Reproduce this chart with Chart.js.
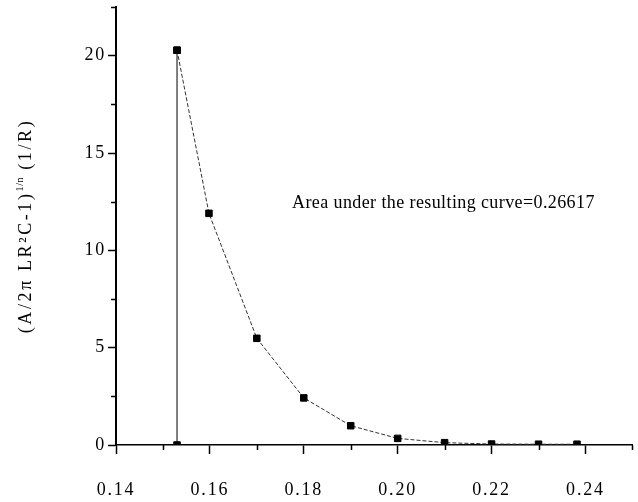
<!DOCTYPE html>
<html lang="en">
<head>
    <meta charset="UTF-8">
    <title>Area under the resulting curve</title>
    <script src="https://cdn.jsdelivr.net/npm/chart.js@4"></script>
    <style>
        html, body { margin: 0; padding: 0; background: #fff; overflow: hidden; }
        #wrap { width: 638px; height: 502px; }
        canvas { display: block; }
    </style>
</head>
<body>
    <div id="wrap"><canvas id="areaChart"></canvas></div>

    <script>
        // curve samples: x (frequency-like variable) and (A/2pi LR2C-1)^(1/n) values
        const curveX = [0.1530, 0.1598, 0.1700, 0.1800, 0.1900, 0.2000, 0.2100, 0.2200, 0.2300, 0.2382];
        const curveY = [20.28, 11.90, 5.48, 2.42, 0.99, 0.34, 0.12, 0.05, 0.04, 0.04];

        // vertical drop line at the first sample
        const dropX = [0.1530, 0.1530];
        const dropY = [0, 20.28];

        const xTickLabels = ['0.14', '0.16', '0.18', '0.20', '0.22', '0.24'];
        const yTickLabels = ['0', '5', '10', '15', '20'];

        const areaNote = 'Area under the resulting curve=0.26617';

        const FONT = "'Liberation Serif', 'Times New Roman', serif";

        const toPoints = (xs, ys) => xs.map((x, i) => ({ x: x, y: ys[i] }));

        // the serif labels are set a little loose
        const spacing = {
            id: 'spacing',
            beforeDraw(chart) { chart.ctx.letterSpacing = '1.8px'; },
            afterDraw(chart) { chart.ctx.letterSpacing = '0px'; }
        };

        // short minor ticks half way between the labelled ones
        const minorTicks = {
            id: 'minorTicks',
            afterDraw(chart) {
                const ctx = chart.ctx;
                const xs = chart.scales.x, ys = chart.scales.y;
                ctx.save();
                ctx.strokeStyle = '#000';
                ctx.lineWidth = 1.5;
                ctx.beginPath();
                for (let v = 0.15; v <= xs.max + 1e-9; v += 0.02) {
                    const px = Math.round(xs.getPixelForValue(v)) + 0.5;
                    ctx.moveTo(px, ys.bottom);
                    ctx.lineTo(px, ys.bottom + 5);
                }
                for (let v = 2.5; v <= ys.max + 1e-9; v += 5) {
                    const py = Math.round(ys.getPixelForValue(v)) + 0.5;
                    ctx.moveTo(xs.left, py);
                    ctx.lineTo(xs.left - 5, py);
                }
                ctx.stroke();
                ctx.restore();
            }
        };

        // rotated y title with superscript exponent, plus the area note
        const textLayer = {
            id: 'textLayer',
            afterDraw(chart) {
                const ctx = chart.ctx;
                const area = chart.chartArea;
                const parts = [
                    { t: '(A/2\u03C0 LR\u00B2C-1)', size: 18, rise: 0, ls: '2.6px' },
                    { t: '1/n', size: 10, rise: 8, ls: '0.6px' },
                    { t: ' (1/R)', size: 18, rise: 0, ls: '2.6px' }
                ];
                ctx.save();
                ctx.fillStyle = '#000';
                ctx.textBaseline = 'alphabetic';
                let total = 0;
                parts.forEach(p => {
                    ctx.font = p.size + 'px ' + FONT;
                    ctx.letterSpacing = p.ls;
                    p.w = ctx.measureText(p.t).width;
                    total += p.w;
                });
                ctx.translate(31, (area.top + area.bottom) / 2);
                ctx.rotate(-Math.PI / 2);
                let x = -total / 2;
                parts.forEach(p => {
                    ctx.font = p.size + 'px ' + FONT;
                    ctx.letterSpacing = p.ls;
                    ctx.fillText(p.t, x, -p.rise);
                    x += p.w;
                });
                ctx.restore();

                // note placed in data coordinates
                const xs = chart.scales.x, ys = chart.scales.y;
                ctx.save();
                ctx.fillStyle = '#000';
                ctx.font = '18px ' + FONT;
                ctx.letterSpacing = '0.4px';
                ctx.textAlign = 'left';
                ctx.textBaseline = 'middle';
                ctx.fillText(areaNote, xs.getPixelForValue(0.1775), ys.getPixelForValue(12.4));
                ctx.restore();
            }
        };

        new Chart(document.getElementById('areaChart').getContext('2d'), {
            type: 'scatter',
            data: {
                datasets: [
                    {
                        data: toPoints(curveX, curveY),
                        showLine: true,
                        borderColor: '#333',
                        borderWidth: 1,
                        borderDash: [4, 2],
                        pointStyle: 'rect',
                        pointRadius: 4.6,
                        pointBorderWidth: 1,
                        pointBackgroundColor: '#000',
                        pointBorderColor: '#000'
                    },
                    {
                        data: toPoints(dropX, dropY),
                        showLine: true,
                        borderColor: '#000',
                        borderWidth: 1,
                        pointStyle: 'rect',
                        pointRadius: 4.6,
                        pointBorderWidth: 1,
                        pointBackgroundColor: '#000',
                        pointBorderColor: '#000'
                    }
                ]
            },
            options: {
                responsive: true,
                maintainAspectRatio: false,
                animation: false,
                layout: { padding: { top: 7, right: 2, left: 0, bottom: 0 } },
                plugins: {
                    legend: { display: false },
                    tooltip: { enabled: false }
                },
                scales: {
                    x: {
                        type: 'linear',
                        min: 0.14,
                        max: 0.25,
                        border: { display: true, color: '#000', width: 1.5 },
                        grid: {
                            drawOnChartArea: false,
                            color: '#000',
                            tickLength: 9,
                            tickWidth: 1.5
                        },
                        ticks: {
                            stepSize: 0.02,
                            includeBounds: false,
                            padding: 25,
                            maxRotation: 0,
                            color: '#000',
                            font: { family: FONT, size: 18 },
                            callback: (v) => {
                                const s = v.toFixed(2);
                                return xTickLabels.includes(s) ? s : '';
                            }
                        },
                        afterFit: (scale) => {
                            scale.height = 57;
                            scale.paddingLeft = 0;
                            scale.paddingRight = 0;
                        }
                    },
                    y: {
                        type: 'linear',
                        min: 0,
                        max: 22.5,
                        border: { display: true, color: '#000', width: 2 },
                        grid: {
                            drawOnChartArea: false,
                            color: '#000',
                            tickLength: 8,
                            tickWidth: 1.5
                        },
                        ticks: {
                            stepSize: 5,
                            includeBounds: false,
                            padding: 2,
                            color: '#000',
                            font: { family: FONT, size: 18 },
                            callback: (v) => {
                                const s = String(v);
                                return yTickLabels.includes(s) ? s : '';
                            }
                        },
                        afterFit: (scale) => {
                            scale.width = 116;
                            scale.paddingTop = 0;
                            scale.paddingBottom = 0;
                        }
                    }
                }
            },
            plugins: [spacing, minorTicks, textLayer]
        });
    </script>
</body>
</html>
